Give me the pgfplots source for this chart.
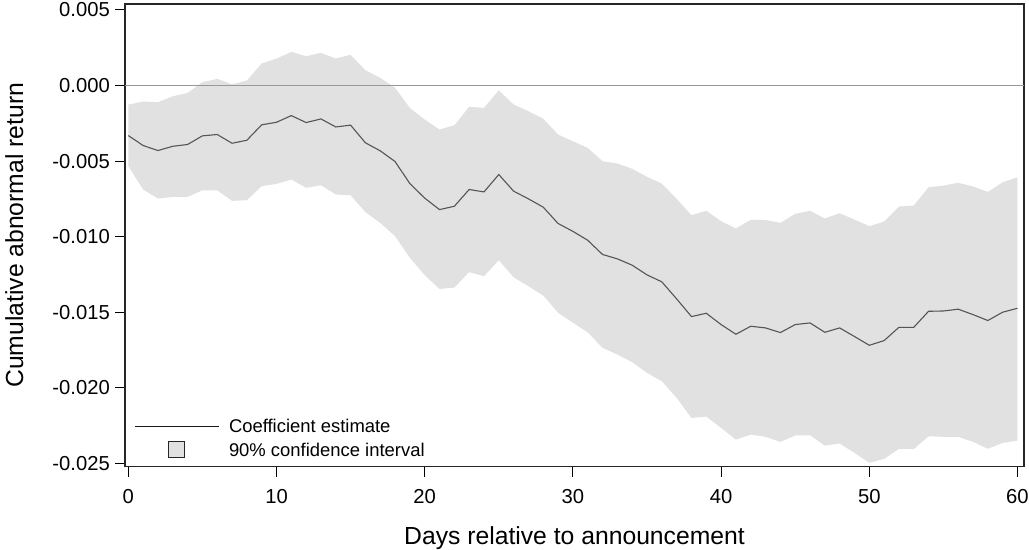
\documentclass[border=0pt]{standalone}
\usepackage{pgfplots}
\pgfplotsset{compat=1.18}
\usepackage{pgfplotstable}
\usepgfplotslibrary{fillbetween}
\usepackage{fontspec}
\setmainfont{Liberation Sans}
\definecolor{bandgray}{HTML}{E1E1E1}
\definecolor{linegray}{HTML}{555555}
\definecolor{zerogray}{HTML}{999999}

\pgfplotstableread{
d mean hi lo
0 -0.00331 -0.00126 -0.00534
1 -0.00397 -0.00106 -0.00688
2 -0.00430 -0.00110 -0.00748
3 -0.00402 -0.00071 -0.00737
4 -0.00390 -0.00049 -0.00737
5 -0.00333 0.00022 -0.00693
6 -0.00324 0.00044 -0.00693
7 -0.00382 0.00008 -0.00763
8 -0.00362 0.00033 -0.00759
9 -0.00260 0.00146 -0.00666
10 -0.00243 0.00178 -0.00651
11 -0.00199 0.00223 -0.00622
12 -0.00245 0.00194 -0.00677
13 -0.00221 0.00216 -0.00660
14 -0.00274 0.00179 -0.00721
15 -0.00262 0.00203 -0.00726
16 -0.00379 0.00101 -0.00838
17 -0.00432 0.00051 -0.00909
18 -0.00503 -0.00015 -0.00997
19 -0.00649 -0.00148 -0.01140
20 -0.00745 -0.00225 -0.01255
21 -0.00821 -0.00291 -0.01346
22 -0.00799 -0.00263 -0.01337
23 -0.00688 -0.00141 -0.01235
24 -0.00704 -0.00148 -0.01262
25 -0.00589 -0.00031 -0.01156
26 -0.00699 -0.00126 -0.01269
27 -0.00750 -0.00170 -0.01328
28 -0.00805 -0.00220 -0.01390
29 -0.00913 -0.00324 -0.01504
30 -0.00965 -0.00369 -0.01570
31 -0.01024 -0.00413 -0.01633
32 -0.01118 -0.00501 -0.01736
33 -0.01147 -0.00516 -0.01780
34 -0.01189 -0.00551 -0.01831
35 -0.01253 -0.00604 -0.01901
36 -0.01299 -0.00649 -0.01957
37 -0.01412 -0.00750 -0.02067
38 -0.01529 -0.00858 -0.02200
39 -0.01507 -0.00829 -0.02191
40 -0.01582 -0.00898 -0.02266
41 -0.01646 -0.00946 -0.02343
42 -0.01593 -0.00889 -0.02310
43 -0.01604 -0.00890 -0.02325
44 -0.01635 -0.00909 -0.02358
45 -0.01582 -0.00849 -0.02316
46 -0.01571 -0.00829 -0.02314
47 -0.01633 -0.00880 -0.02383
48 -0.01604 -0.00845 -0.02369
49 -0.01661 -0.00887 -0.02431
50 -0.01719 -0.00931 -0.02497
51 -0.01688 -0.00900 -0.02471
52 -0.01600 -0.00801 -0.02404
53 -0.01600 -0.00794 -0.02406
54 -0.01494 -0.00673 -0.02321
55 -0.01492 -0.00662 -0.02325
56 -0.01480 -0.00644 -0.02325
57 -0.01516 -0.00668 -0.02358
58 -0.01555 -0.00704 -0.02404
59 -0.01500 -0.00640 -0.02365
60 -0.01474 -0.00607 -0.02350
}\cardata

\begin{document}
\begin{tikzpicture}
\begin{axis}[
  at={(125bp,83.3bp)}, anchor=south west,
  scale only axis, width=899bp, height=462.7bp,
  xmin=-0.223, xmax=60.44,
  ymin=-0.025225, ymax=0.005397,
  axis line style={black!85, line width=1.1bp},
  tick align=outside, xtick pos=bottom, ytick pos=left,
  major tick length=10bp,
  every tick/.style={black, line width=1bp},
  xtick={0,10,20,30,40,50,60},
  xticklabels={0,10,20,30,40,50,60},
  ytick={-0.025,-0.02,-0.015,-0.01,-0.005,0,0.005},
  yticklabels={-0.025,-0.020,-0.015,-0.010,-0.005,0.000,0.005},
  scaled y ticks=false,
  every tick label/.append style={font=\fontsize{20.3}{24}\selectfont, inner sep=0pt},
  xticklabel style={anchor=base, yshift=-26.6bp},
  yticklabel style={anchor=east, xshift=-5bp},
  xlabel={Days relative to announcement},
  ylabel={Cumulative abnormal return},
  every axis x label/.style={at={(axis description cs:0.5,0)}, anchor=base, yshift=-77.3bp, inner sep=0pt, font=\fontsize{24.8}{28}\selectfont},
  every axis y label/.style={at={(axis description cs:0,0.5)}, xshift=-102bp, anchor=base, rotate=90, inner sep=0pt, font=\fontsize{24.8}{28}\selectfont},
  legend cell align=left,
  legend style={at={(axis description cs:0,0)}, anchor=south west, xshift=9bp, yshift=8.95bp,
    draw=none, fill=none, inner sep=0pt, outer sep=0pt, column sep=10bp, row sep=8.15bp,
    font=\fontsize{18.5}{22}\selectfont,
    nodes={inner sep=0pt, text height=13.5bp, text depth=0pt}},
]
\addplot[name path=hi, draw=none, forget plot] table[x=d, y=hi] {\cardata};
\addplot[name path=lo, draw=none, forget plot] table[x=d, y=lo] {\cardata};
\addplot[fill=bandgray, draw=none, forget plot] fill between[of=hi and lo];
\addplot[zerogray, line width=1.1bp, forget plot] coordinates {(-0.223,0) (60.44,0)};
\addplot[linegray, line width=1.1bp, forget plot] table[x=d, y=mean] {\cardata};
\addlegendimage{legend image code/.code={\draw[black!90, line width=1bp] (0bp,0bp) -- (84bp,0bp);}}
\addlegendentry{Coefficient estimate}
\addlegendimage{legend image code/.code={\draw[draw=black!85, fill=bandgray, line width=1bp] (34.2bp,-7.8bp) rectangle (49.8bp,7.8bp); \path[draw=none, fill=none] (0bp,0bp) -- (84bp,0bp);}}
\addlegendentry{90\% confidence interval}
\end{axis}
\pgfresetboundingbox
\useasboundingbox (0,0) rectangle (1029bp,550bp);
\end{tikzpicture}
\end{document}
